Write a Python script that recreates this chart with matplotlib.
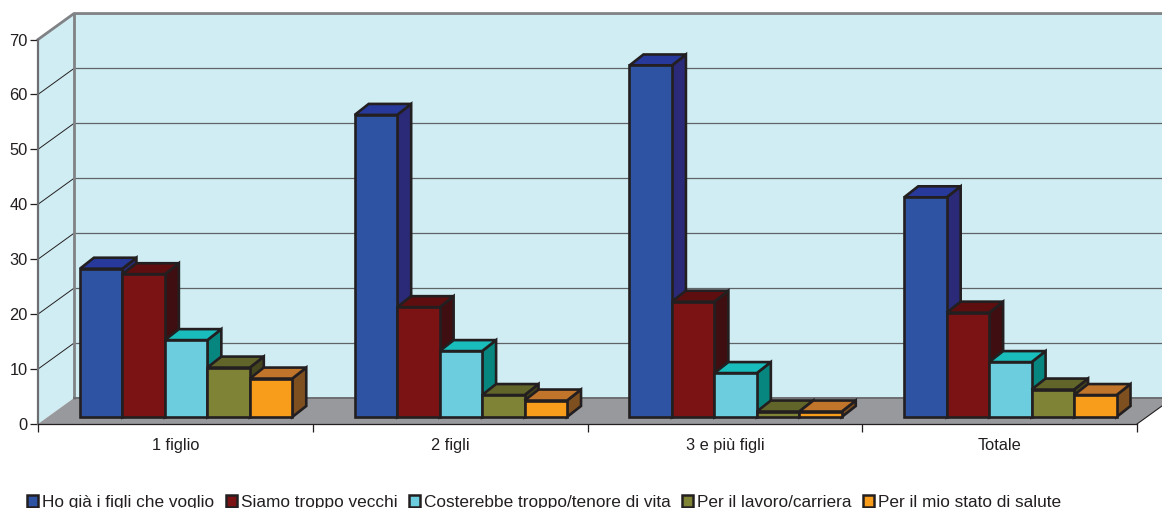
import matplotlib
matplotlib.use("Agg")
import matplotlib.pyplot as plt
from matplotlib.patches import Polygon, Patch

plt.rcParams['font.family'] = ['Liberation Sans', 'DejaVu Sans']

categories = ["1 figlio", "2 figli", "3 e più figli", "Totale"]
series_names = ["Ho già i figli che voglio", "Siamo troppo vecchi",
                "Costerebbe troppo/tenore di vita", "Per il lavoro/carriera",
                "Per il mio stato di salute"]
ho_gia = [27, 55, 64, 40]
vecchi = [26, 20, 21, 19]
costerebbe = [14, 12, 8, 10]
lavoro = [9, 4, 1, 5]
salute = [7, 3, 1, 4]
y_ticks = [0, 10, 20, 30, 40, 50, 60, 70]

# front, top, side
colors = [("#2E53A3", "#27399B", "#2B2A78"),
          ("#7B1214", "#5F0E10", "#3E0E10"),
          ("#6BCDDE", "#18BDBC", "#07857F"),
          ("#7F8335", "#626529", "#45461E"),
          ("#F89C1C", "#C0752A", "#7E5020")]

PX_X = 275.0  # pixels per category
PX_Y = 5.5    # pixels per value unit
WALL_X, WALL_Y = 36 / PX_X, 26 / PX_Y
BAR_X, BAR_Y = 14 / PX_X, 11 / PX_Y
BASE_Y = 7 / PX_Y
BAR_W = 42.5 / PX_X
START = 42 / PX_X
EDGE = "#231F20"
WALL = "#D0EDF3"
GREY = "#808285"

fig = plt.figure(figsize=(11.62, 5.08), dpi=100)
ax = fig.add_axes([38 / 1162, (508 - 424) / 508, 1099 / 1162, (424 - 39.5) / 508])
ax.set_xlim(0, len(categories))
ax.set_ylim(y_ticks[0], y_ticks[-1])
ax.patch.set_visible(False)


def poly(pts, fc, ec="none", lw=0, z=1):
    ax.add_patch(Polygon(pts, closed=True, facecolor=fc, edgecolor=ec, linewidth=lw,
                         joinstyle="miter", clip_on=False, zorder=z))


# walls and floor
n = len(categories)
top = y_ticks[-1]
poly([(0, 0), (WALL_X, WALL_Y), (WALL_X, top + WALL_Y), (0, top)], WALL)
poly([(WALL_X, WALL_Y), (n + WALL_X, WALL_Y), (n + WALL_X, top + WALL_Y), (WALL_X, top + WALL_Y)], WALL)
poly([(0, 0), (WALL_X, WALL_Y), (n + WALL_X, WALL_Y), (n, 0)], "#98999D", z=1.1)

for v in y_ticks[1:-1]:
    ax.plot([0, WALL_X], [v, v + WALL_Y], color=EDGE, lw=0.7, clip_on=False, zorder=1.2)
    ax.plot([WALL_X, n + WALL_X], [v + WALL_Y, v + WALL_Y], color="#5F6468", lw=0.9,
            clip_on=False, zorder=1.2)

ax.plot([0, WALL_X, n + WALL_X], [top, top + WALL_Y, top + WALL_Y], color=GREY, lw=2.0,
        clip_on=False, zorder=1.3)
ax.plot([WALL_X, WALL_X], [WALL_Y, top + WALL_Y], color=GREY, lw=2.0, clip_on=False, zorder=1.3)
ax.plot([WALL_X, n + WALL_X], [WALL_Y, WALL_Y], color="#6D6E71", lw=1.4, clip_on=False, zorder=1.3)
ax.plot([n, n + WALL_X], [0, WALL_Y], color=EDGE, lw=0.8, clip_on=False, zorder=1.3)

# bars, left to right so each one covers the side of the previous
values = [ho_gia, vecchi, costerebbe, lavoro, salute]
for g in range(n):
    for s, vals in enumerate(values):
        v = vals[g]
        x0 = g + START + s * BAR_W
        x1 = x0 + BAR_W
        y0 = BASE_Y
        y1 = BASE_Y + v
        z = 2 + g + s * 0.1
        front, top_c, side = colors[s]
        poly([(x1, y0), (x1 + BAR_X, y0 + BAR_Y), (x1 + BAR_X, y1 + BAR_Y), (x1, y1)], side, EDGE, 1.9, z)
        poly([(x0, y1), (x1, y1), (x1 + BAR_X, y1 + BAR_Y), (x0 + BAR_X, y1 + BAR_Y)], top_c, EDGE, 1.9, z)
        poly([(x0, y0), (x1, y0), (x1, y1), (x0, y1)], front, EDGE, 1.9, z)

for name in ["top", "right"]:
    ax.spines[name].set_visible(False)
ax.spines["left"].set_color("#6D6E71")
ax.spines["left"].set_linewidth(1.6)
ax.spines["bottom"].set_color(EDGE)
ax.spines["bottom"].set_linewidth(0.9)

ax.set_yticks(y_ticks)
ax.set_xticks(range(n + 1))
ax.set_xticklabels([])
ax.set_xticks([g + 0.5 for g in range(n)], minor=True)
ax.set_xticklabels(categories, minor=True)
ax.tick_params(axis="y", length=6, width=0.9, color=EDGE, labelsize=11.8, labelcolor=EDGE, pad=1.5)
ax.tick_params(axis="x", which="major", length=6, width=0.9, color=EDGE)
ax.tick_params(axis="x", which="minor", length=0, labelsize=11.8, labelcolor=EDGE, pad=10.3)

handles = [Patch(facecolor=colors[i][0], edgecolor=EDGE, linewidth=1.8) for i in range(5)]
fig.legend(handles, series_names, ncol=5, loc="lower left", bbox_to_anchor=(27 / 1162, -2 / 508),
           frameon=False, fontsize=12.4, labelcolor=EDGE, handlelength=0.66, handleheight=0.66,
           handletextpad=0.22, columnspacing=0.66, borderpad=0, borderaxespad=0)

fig.savefig("out.png", dpi=100)
